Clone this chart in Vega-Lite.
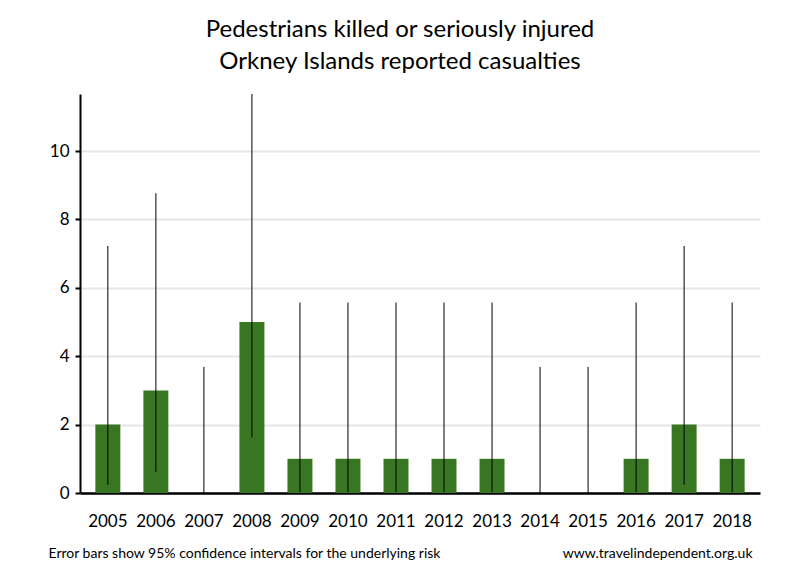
{
  "$schema": "https://vega.github.io/schema/vega-lite/v6.json",
  "autosize": {"type": "none"},
  "width": 680,
  "height": 399,
  "padding": {"left": 80, "top": 94, "right": 40, "bottom": 87},
  "background": "white",
  "config": {
    "view": {"stroke": null},
    "font": "Lato",
    "axis": {"labelFont": "Lato", "titleFont": "Lato", "labelColor": "black", "titleColor": "black"}
  },
  "title": {
    "text": ["Pedestrians killed or seriously injured", "Orkney Islands reported casualties"],
    "fontSize": 24,
    "fontWeight": "normal",
    "font": "Lato",
    "color": "black",
    "lineHeight": 32,
    "anchor": "middle",
    "dx": -20,
    "offset": 20
  },
  "data": {
    "values": [
      {"year": "2005", "count": 2, "lo": 0.242, "hi": 7.225},
      {"year": "2006", "count": 3, "lo": 0.619, "hi": 8.767},
      {"year": "2007", "count": 0, "lo": 0, "hi": 3.689},
      {"year": "2008", "count": 5, "lo": 1.623, "hi": 11.668},
      {"year": "2009", "count": 1, "lo": 0.0253, "hi": 5.572},
      {"year": "2010", "count": 1, "lo": 0.0253, "hi": 5.572},
      {"year": "2011", "count": 1, "lo": 0.0253, "hi": 5.572},
      {"year": "2012", "count": 1, "lo": 0.0253, "hi": 5.572},
      {"year": "2013", "count": 1, "lo": 0.0253, "hi": 5.572},
      {"year": "2014", "count": 0, "lo": 0, "hi": 3.689},
      {"year": "2015", "count": 0, "lo": 0, "hi": 3.689},
      {"year": "2016", "count": 1, "lo": 0.0253, "hi": 5.572},
      {"year": "2017", "count": 2, "lo": 0.242, "hi": 7.225},
      {"year": "2018", "count": 1, "lo": 0.0253, "hi": 5.572}
    ]
  },
  "resolve": {"axis": {"x": "independent"}},
  "layer": [
    {
      "mark": {"type": "bar", "color": "#387622"},
      "encoding": {
        "x": {
          "field": "year", "type": "ordinal",
          "scale": {"paddingInner": 0.48, "paddingOuter": 0.32},
          "axis": {
            "orient": "bottom",
            "title": "Error bars show 95% confidence intervals for the underlying risk",
            "titleFontSize": 14, "titleFontWeight": "normal",
            "titleAlign": "left", "titleAnchor": "start", "titleX": -32, "titleY": 60, "titleBaseline": "middle",
            "labelAngle": 0, "labelFontSize": 17, "labelPadding": 20,
            "ticks": false, "domainColor": "black", "domainWidth": 2.5, "grid": false
          }
        },
        "y": {
          "field": "count", "type": "quantitative",
          "scale": {"domain": [0, 11.668], "nice": false},
          "axis": {
            "title": null, "values": [0, 2, 4, 6, 8, 10],
            "labelFontSize": 17, "labelPadding": 6,
            "domainColor": "black", "domainWidth": 2,
            "tickColor": "black", "tickWidth": 2, "tickSize": 5,
            "gridColor": "#e6e6e6", "gridWidth": 2
          }
        }
      }
    },
    {
      "mark": {"type": "rule", "color": "black", "strokeWidth": 1},
      "encoding": {
        "x": {
          "field": "year", "type": "ordinal",
          "axis": {
            "orient": "bottom",
            "title": "www.travelindependent.org.uk",
            "titleFontSize": 14, "titleFontWeight": "normal",
            "titleAlign": "right", "titleAnchor": "end", "titleX": 672, "titleY": 60, "titleBaseline": "middle",
            "labels": false, "ticks": false, "domain": false, "grid": false
          }
        },
        "y": {"field": "lo", "type": "quantitative"},
        "y2": {"field": "hi"}
      }
    }
  ]
}
